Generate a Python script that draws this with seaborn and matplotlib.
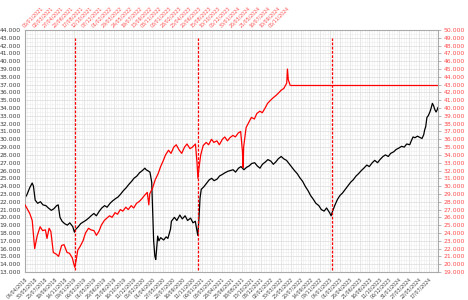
import matplotlib
matplotlib.use("Agg")
import matplotlib.pyplot as plt
import matplotlib.dates as mdates
import matplotlib.ticker as mticker
import numpy as np
import pandas as pd
import seaborn as sns

# ---------------- data ----------------
black_dates = [
    "2018-04-04", "2018-04-15", "2018-05-01", "2018-05-15", "2018-05-22", "2018-06-01", "2018-06-15",
    "2018-07-01", "2018-07-15", "2018-08-01", "2018-08-15", "2018-09-01", "2018-09-15", "2018-10-01",
    "2018-10-10", "2018-10-20", "2018-11-01", "2018-11-15", "2018-12-01", "2018-12-15",
    "2019-01-01", "2019-01-10", "2019-01-15", "2019-02-01", "2019-02-15", "2019-03-01", "2019-03-15",
    "2019-04-01", "2019-04-15", "2019-05-01", "2019-05-15", "2019-06-01", "2019-06-15", "2019-07-01",
    "2019-07-15", "2019-08-01", "2019-08-15", "2019-09-01", "2019-09-15", "2019-10-01", "2019-10-15",
    "2019-11-01", "2019-11-15", "2019-12-01", "2019-12-15",
    "2020-01-01", "2020-01-15", "2020-02-01", "2020-02-15", "2020-02-22", "2020-03-01", "2020-03-15",
    "2020-03-25", "2020-03-30", "2020-04-05", "2020-04-12", "2020-04-17", "2020-04-22", "2020-04-28",
    "2020-05-05", "2020-05-15", "2020-06-01", "2020-06-15", "2020-06-25", "2020-07-01", "2020-07-10",
    "2020-07-15", "2020-08-01", "2020-08-15", "2020-09-01", "2020-09-15", "2020-10-01", "2020-10-15",
    "2020-11-01", "2020-11-15", "2020-11-28", "2020-12-05", "2020-12-12", "2020-12-18", "2020-12-25",
    "2021-01-01", "2021-01-15", "2021-02-01", "2021-02-15", "2021-03-01", "2021-03-15", "2021-04-01",
    "2021-04-15", "2021-05-01", "2021-05-15", "2021-06-01", "2021-06-15", "2021-07-01", "2021-07-15",
    "2021-08-01", "2021-08-15", "2021-09-01", "2021-09-15", "2021-10-01", "2021-10-15", "2021-11-01",
    "2021-11-15", "2021-12-01", "2021-12-15",
    "2022-01-01", "2022-01-15", "2022-02-01", "2022-02-15", "2022-03-01", "2022-03-15", "2022-04-01",
    "2022-04-15", "2022-05-01", "2022-05-15", "2022-06-01", "2022-06-15", "2022-07-01", "2022-07-15",
    "2022-08-01", "2022-08-15", "2022-09-01", "2022-09-15", "2022-10-01", "2022-10-15", "2022-11-01",
    "2022-11-15", "2022-12-01", "2022-12-15",
    "2023-01-01", "2023-01-10", "2023-01-15", "2023-02-01", "2023-02-15", "2023-03-01", "2023-03-15",
    "2023-04-01", "2023-04-15", "2023-05-01", "2023-05-15", "2023-06-01", "2023-06-15", "2023-07-01",
    "2023-07-15", "2023-08-01", "2023-08-15", "2023-09-01", "2023-09-15", "2023-10-01", "2023-10-15",
    "2023-11-01", "2023-11-15", "2023-12-01", "2023-12-15",
    "2024-01-01", "2024-01-15", "2024-02-01", "2024-02-15", "2024-03-01", "2024-03-15", "2024-04-01",
    "2024-04-10", "2024-04-20", "2024-05-01", "2024-05-15", "2024-06-01", "2024-06-10", "2024-06-20",
    "2024-06-25", "2024-07-01", "2024-07-08", "2024-07-15", "2024-07-25", "2024-08-01", "2024-08-08",
    "2024-08-15", "2024-08-22", "2024-08-29", "2024-09-05", "2024-09-09",
]
black_values = [
    22.5, 22.9, 23.8, 24.4, 24.0, 22.2, 21.8,
    22.0, 21.6, 21.5, 21.2, 20.9, 21.1, 21.5,
    21.6, 20.0, 19.5, 19.2, 19.0, 19.3,
    18.8, 18.1, 18.4, 18.8, 19.2, 19.4, 19.6,
    19.9, 20.2, 20.5, 20.2, 20.8, 21.2, 21.5,
    21.3, 21.8, 22.1, 22.4, 22.6, 23.0, 23.4,
    23.8, 24.2, 24.6, 25.0,
    25.3, 25.7, 26.0, 26.3, 26.1, 26.0, 25.8,
    24.5, 21.0, 17.0, 15.0, 14.6, 16.0, 17.6,
    17.0, 17.4, 17.1, 17.5, 17.3, 17.8, 18.5,
    19.5, 20.0, 19.6, 20.3, 19.8, 20.2, 19.6,
    19.9, 19.3, 19.5, 18.6, 17.7, 19.5, 22.5,
    23.6, 23.9, 24.4, 24.8, 25.0, 24.7, 24.9,
    25.3, 25.5, 25.7, 25.9, 26.0, 26.1, 25.8,
    26.3, 26.5, 26.1, 26.4, 26.6, 26.9, 27.0,
    26.6, 26.3, 26.8,
    27.1, 27.4, 27.2, 26.8, 27.1, 27.5, 27.8,
    27.5, 27.3, 26.9, 26.4, 26.0, 25.6, 25.1,
    24.6, 24.0, 23.4, 22.8, 22.3, 21.8, 21.5,
    21.0, 20.8, 21.2,
    20.6, 20.2, 20.6, 21.6, 22.3, 22.8, 23.1,
    23.6, 24.0, 24.5, 24.8, 25.3, 25.6, 26.0,
    26.3, 26.7, 26.5, 27.0, 27.3, 27.0, 27.4,
    27.8, 28.0, 27.8, 28.2,
    28.4, 28.7, 28.9, 29.1, 29.0, 29.4, 29.3,
    29.8, 30.3, 30.2, 30.4, 30.2, 30.1, 30.6,
    31.2, 31.6, 32.8, 33.0, 33.5, 34.0, 34.6,
    34.3, 33.8, 33.5, 33.8, 34.1,
]

red_dates = [
    "2021-01-05", "2021-01-15", "2021-02-01", "2021-02-15", "2021-02-22", "2021-03-01", "2021-03-15",
    "2021-04-01", "2021-04-15", "2021-05-01", "2021-05-10", "2021-05-22", "2021-06-01", "2021-06-15",
    "2021-07-01", "2021-07-15", "2021-08-01", "2021-08-15", "2021-09-01", "2021-09-15", "2021-10-01",
    "2021-10-10", "2021-10-15", "2021-10-22", "2021-11-01", "2021-11-15", "2021-12-01", "2021-12-15",
    "2022-01-01", "2022-01-15", "2022-02-01", "2022-02-15", "2022-03-01", "2022-03-15", "2022-04-01",
    "2022-04-15", "2022-05-01", "2022-05-15", "2022-06-01", "2022-06-15", "2022-07-01", "2022-07-15",
    "2022-08-01", "2022-08-15", "2022-09-01", "2022-09-15", "2022-10-01", "2022-10-15", "2022-11-01",
    "2022-11-15", "2022-12-01", "2022-12-10", "2022-12-15",
    "2023-01-01", "2023-01-15", "2023-02-01", "2023-02-15", "2023-03-01", "2023-03-15", "2023-04-01",
    "2023-04-15", "2023-05-01", "2023-05-15", "2023-06-01", "2023-06-15", "2023-07-01", "2023-07-15",
    "2023-08-01", "2023-08-15", "2023-09-01", "2023-09-10", "2023-09-15", "2023-09-22", "2023-10-01",
    "2023-10-15", "2023-11-01", "2023-11-15", "2023-12-01", "2023-12-15",
    "2024-01-01", "2024-01-15", "2024-02-01", "2024-02-15", "2024-03-01", "2024-03-15", "2024-04-01",
    "2024-04-15", "2024-05-01", "2024-05-15", "2024-05-25", "2024-05-29", "2024-06-01", "2024-06-15",
    "2024-07-01", "2024-07-15", "2024-08-01", "2024-08-15", "2024-09-01", "2024-09-15", "2024-10-01",
    "2024-10-15", "2024-11-01", "2024-11-15", "2024-12-01", "2024-12-15",
    "2025-01-01", "2025-01-15", "2025-02-01", "2025-02-05", "2025-02-10", "2025-02-21",
]
red_values = [
    27.6, 27.2, 26.5, 25.6, 23.8, 22.0, 23.6,
    24.8, 24.3, 24.4, 23.3, 24.6, 24.2, 21.5,
    21.3, 21.0, 22.4, 22.5, 21.5, 21.4, 20.8,
    20.0, 19.6, 20.4, 21.8, 22.3, 23.0, 24.0,
    24.6, 24.4, 24.3, 23.7, 24.2, 25.0, 25.6,
    25.9, 26.2, 26.0, 26.6, 26.4, 27.0, 26.8,
    27.3, 27.0, 27.5, 27.2, 27.8, 28.0, 28.4,
    28.8, 29.2, 27.6, 29.0,
    29.8, 30.8, 31.6, 32.5, 33.2, 34.0, 34.6,
    34.2, 35.0, 35.3, 34.6, 34.2, 35.0, 35.4,
    34.8, 35.0, 35.4, 33.0, 31.0, 32.5, 34.0,
    35.2, 35.6, 35.3, 36.0, 35.6,
    35.8, 35.3, 36.0, 36.3, 35.8, 36.2, 36.5,
    36.3, 36.8, 37.0, 34.5, 32.4, 35.0, 37.5,
    38.2, 38.8, 38.6, 39.3, 39.6, 39.4, 40.0,
    40.6, 41.0, 41.3, 41.6, 41.9,
    42.3, 42.5, 43.2, 45.0, 43.6, 42.9,
]

marker_dates = ["2019-01-13", "2020-12-13", "2023-01-15"]
marker_low, marker_high = 13.2, 43.0

left_range = (13, 44)
right_range = (19, 50)
bottom_range = ("2018-04-04", "2024-09-09")
top_range = ("2021-01-05", "2027-06-11")
bottom_tick_start = "2018-04-04"
top_tick_start, top_tick_count = "2021-01-05", 26

# ---------------- figure ----------------
sns.set_theme(style="white")
plt.rcParams["font.family"] = ["DejaVu Sans"]

fig = plt.figure(figsize=(4.68, 3.0), dpi=100)
pos = [25 / 468, 28 / 300, 413 / 468, 242 / 300]
ax = fig.add_axes(pos)
axr = fig.add_axes(pos, frameon=False)

black_df = pd.DataFrame({"date": pd.to_datetime(black_dates), "value": black_values})
red_df = pd.DataFrame({"date": pd.to_datetime(red_dates), "value": red_values})

GRID = "#dcdcdc"
MINOR = "#ececec"
TXT = "#404040"
RTXT = "#ff4d4d"
DATE_FS = 3.4

# black series on bottom/left axes
sns.lineplot(data=black_df, x="date", y="value", ax=ax, color="black", lw=0.9)
ax.set_xlim(pd.Timestamp(bottom_range[0]), pd.Timestamp(bottom_range[1]))
ax.set_ylim(*left_range)
ax.vlines(pd.to_datetime(marker_dates), marker_low, marker_high, colors="#ff0000",
          linestyles=(0, (2.2, 1.2)), lw=0.9, zorder=4)

bt = pd.date_range(bottom_tick_start, bottom_range[1], freq="56D")
bm = pd.date_range(bottom_tick_start, bottom_range[1], freq="14D")
ax.set_xticks(bt)
ax.set_xticks(bm, minor=True)
ax.xaxis.set_major_formatter(mdates.DateFormatter("%d/%m/%Y"))
ax.yaxis.set_major_locator(mticker.MultipleLocator(1))
ax.yaxis.set_minor_locator(mticker.MultipleLocator(0.5))
ax.yaxis.set_major_formatter(mticker.FormatStrFormatter("%.3f"))
ax.grid(True, which="major", color=GRID, lw=0.5)
ax.grid(True, which="minor", color=MINOR, lw=0.4)
ax.tick_params(axis="x", which="major", labelsize=DATE_FS, labelcolor=TXT, rotation=45,
               length=2, width=0.5, color="#999999", pad=1)
ax.tick_params(axis="x", which="minor", length=0)
ax.tick_params(axis="y", which="major", labelsize=4.4, labelcolor=TXT, length=2,
               width=0.5, color="#999999", pad=1)
ax.tick_params(axis="y", which="minor", length=0)
for lab in ax.get_xticklabels():
    lab.set_ha("right")
    lab.set_rotation_mode("anchor")
ax.set_xlabel("")
ax.set_ylabel("")
for s in ax.spines.values():
    s.set_color("#aaaaaa")
    s.set_linewidth(0.8)

# red series on top/right axes
sns.lineplot(data=red_df, x="date", y="value", ax=axr, color="#ff0000", lw=0.9)
axr.set_xlim(pd.Timestamp(top_range[0]), pd.Timestamp(top_range[1]))
axr.set_ylim(*right_range)
axr.hlines(red_values[-1], pd.Timestamp(red_dates[-1]), pd.Timestamp(top_range[1]),
           colors="#ff0000", lw=0.9)
axr.patch.set_alpha(0)
axr.xaxis.tick_top()
axr.yaxis.tick_right()
tt = pd.date_range(top_tick_start, periods=top_tick_count, freq="56D")
axr.set_xticks(tt)
axr.xaxis.set_major_formatter(mdates.DateFormatter("%d/%m/%Y"))
axr.yaxis.set_major_locator(mticker.MultipleLocator(1))
axr.yaxis.set_major_formatter(mticker.FormatStrFormatter("%.3f"))
axr.tick_params(axis="x", labelsize=DATE_FS, labelcolor=RTXT, rotation=45, length=0, pad=1)
axr.tick_params(axis="y", labelsize=4.4, labelcolor=RTXT, length=2, width=0.5,
                color="#999999", pad=2)
for lab in axr.get_xticklabels():
    lab.set_ha("left")
    lab.set_rotation_mode("anchor")
axr.grid(False)
axr.set_xlabel("")
axr.set_ylabel("")

fig.savefig("out.png", dpi=100)
